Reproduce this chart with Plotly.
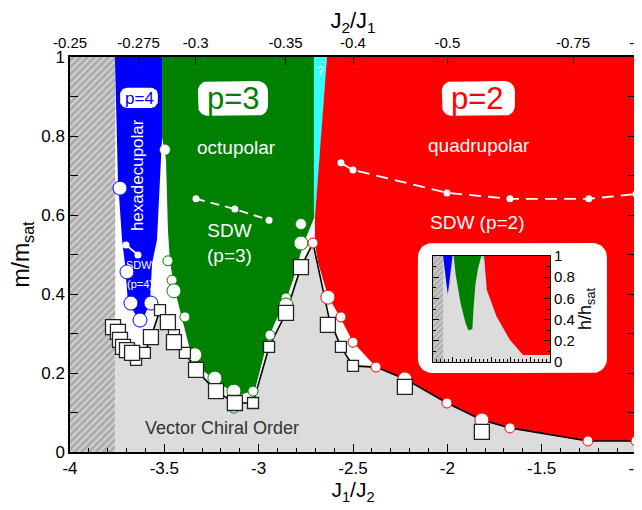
import numpy as np
import plotly.graph_objects as go

# ---------------- data ----------------
# main panel: x = J1/J2, y = m/m_sat
X_RANGE = [-4.0, -1.0]
Y_RANGE = [0.0, 1.0]

bottom_tickvals = [-4, -3.5, -3, -2.5, -2, -1.5, -1]
bottom_ticktext = ["-4", "-3.5", "-3", "-2.5", "-2", "-1.5", "-1"]
top_values = [-0.25, -0.275, -0.3, -0.35, -0.4, -0.5, -0.75, -1.0]   # J2/J1
top_ticktext = ["-0.25", "-0.275", "-0.3", "-0.35", "-0.4", "-0.5", "-0.75", "-1"]
y_tickvals = [0, 0.2, 0.4, 0.6, 0.8, 1.0]
y_ticktext = ["0", "0.2", "0.4", "0.6", "0.8", "1"]

# hatched (unexplored) strip
hatch_x = [-4.0, -3.76, -3.76, -4.0]
hatch_y = [0.0, 0.0, 1.0, 1.0]

# phase regions
blue_x = [-3.762, -3.512, -3.512, -3.539, -3.565, -3.576, -3.618, -3.629, -3.693, -3.709, -3.724, -3.746]
blue_y = [1.0, 1.0, 0.797, 0.537, 0.478, 0.380, 0.329, 0.329, 0.380, 0.478, 0.537, 0.689]

green_x = [-3.512, -2.707, -2.707, -2.765, -2.818, -2.855, -2.914, -2.951, -3.020, -3.099, -3.152,
           -3.221, -3.300, -3.364, -3.417, -3.444, -3.470, -3.481, -3.491, -3.507, -3.512]
green_y = [1.0, 1.0, 0.592, 0.524, 0.435, 0.385, 0.327, 0.284, 0.157, 0.144, 0.157,
           0.177, 0.208, 0.258, 0.359, 0.410, 0.481, 0.562, 0.739, 0.790, 0.797]

cyan_x = [-2.707, -2.638, -2.665, -2.686, -2.702, -2.707]
cyan_y = [1.0, 1.0, 0.815, 0.689, 0.592, 0.592]

red_x = [-2.638, -1.0, -1.0, -1.255, -1.668, -1.817, -2.002, -2.225, -2.378, -2.500, -2.569,
         -2.633, -2.686, -2.702, -2.702, -2.686, -2.665]
red_y = [1.0, 1.0, 0.028, 0.028, 0.061, 0.081, 0.124, 0.185, 0.215, 0.278, 0.342,
         0.395, 0.481, 0.529, 0.592, 0.689, 0.815]

# vector chiral boundary (black line)
chiral_x = [-3.772, -3.735, -3.698, -3.650, -3.603, -3.571, -3.523, -3.449, -3.391, -3.332, -3.226,
            -3.126, -3.030, -2.945, -2.855, -2.776, -2.712, -2.649, -2.627, -2.564, -2.500, -2.378,
            -2.225, -2.002, -1.817, -1.668, -1.255, -1.0]
chiral_y = [0.316, 0.284, 0.258, 0.233, 0.251, 0.291, 0.359, 0.296, 0.251, 0.208, 0.154,
            0.124, 0.124, 0.266, 0.352, 0.468, 0.529, 0.392, 0.339, 0.266, 0.218, 0.215,
            0.185, 0.124, 0.081, 0.061, 0.028, 0.028]

# chiral-order data points (squares)
sq_big_x = [-3.772, -3.746, -3.735, -3.719, -3.698, -3.671, -3.571, -3.481, -3.449, -3.332, -3.226,
            -3.126, -2.855, -2.776, -2.633, -2.225, -1.817]
sq_big_y = [0.316, 0.304, 0.284, 0.266, 0.258, 0.251, 0.291, 0.329, 0.278, 0.208, 0.154,
            0.124, 0.352, 0.468, 0.322, 0.165, 0.051]
sq_small_x = [-3.650, -3.603, -3.523, -3.449, -3.391, -3.030, -2.945, -2.564, -2.500]
sq_small_y = [0.233, 0.251, 0.359, 0.296, 0.251, 0.124, 0.266, 0.266, 0.218]

# multipolar boundary points (circles)
red_big_x = [-2.633, -2.225, -1.817]
red_big_y = [0.392, 0.185, 0.081]
red_small_x = [-2.712, -2.564, -2.500, -2.378, -2.002, -1.668, -1.255, -1.0]
red_small_y = [0.529, 0.342, 0.278, 0.215, 0.124, 0.061, 0.028, 0.028]

green_big_x = [-3.449, -3.338, -3.232, -3.131, -2.855, -2.776]
green_big_y = [0.408, 0.246, 0.187, 0.154, 0.372, 0.529]
green_small_x = [-3.481, -3.459, -3.391, -3.131, -3.030, -2.940, -2.855]
green_small_y = [0.484, 0.435, 0.342, 0.111, 0.154, 0.296, 0.390]

blue_big_x = [-3.735, -3.698, -3.677, -3.571, -3.629]
blue_big_y = [0.668, 0.456, 0.377, 0.377, 0.334]

white_dot_x = [-3.497, -2.776]
white_dot_y = [0.765, 0.577]

# SDW crossover lines
sdw4_x = [-3.703, -3.640]
sdw4_y = [0.524, 0.499]
sdw3_x = [-3.332, -3.126, -2.945]
sdw3_y = [0.641, 0.615, 0.587]
sdw2_x = [-2.564, -2.500, -2.002, -1.668, -1.250, -1.0]
sdw2_y = [0.732, 0.714, 0.656, 0.641, 0.641, 0.653]

# inset: x = J1/J2, y = h/h_sat
in_hatch_x = [-4.0, -3.74, -3.74, -4.0]
in_hatch_y = [0.0, 0.0, 1.0, 1.0]
in_blue_x = [-3.74, -3.50, -3.58, -3.62, -3.66]
in_blue_y = [1.0, 1.0, 0.75, 0.64, 0.75]
in_green_x = [-3.47, -3.42, -3.29, -3.16, -3.09, -2.99, -2.96, -2.91, -2.84, -2.76]
in_green_y = [1.0, 0.83, 0.55, 0.36, 0.30, 0.31, 0.51, 0.74, 0.89, 1.0]
in_cyan_x = [-2.76, -2.68, -2.72]
in_cyan_y = [1.0, 1.0, 0.96]
in_red_x = [-2.69, -1.0, -1.0, -1.69, -2.03, -2.37, -2.62]
in_red_y = [1.0, 1.0, 0.066, 0.066, 0.21, 0.43, 0.68]
in_tickvals = [0, 0.2, 0.4, 0.6, 0.8, 1.0]
in_ticktext = ["0", "0.2", "0.4", "0.6", "0.8", "1"]

# ---------------- colours / style ----------------
C_BLUE = "#0000ff"
C_GREEN = "#008000"
C_RED = "#ff0000"
C_CYAN = "#33ffff"
C_LGRAY = "#dcdcdc"
FONT = "Liberation Sans, Arial, Helvetica, sans-serif"

# the page body adds an 8 px offset, so the figure is 8 px smaller on each of those sides
W, H = 634, 502
ML, MR, MT, MB = 62, 6, 49, 58
PX_X = (W - ML - MR) / (X_RANGE[1] - X_RANGE[0])
PX_Y = (H - MT - MB) / (Y_RANGE[1] - Y_RANGE[0])


def rounded_rect(x0, x1, y0, y1, r_px, n=10):
    rx, ry = r_px / PX_X, r_px / PX_Y
    xs, ys = [], []
    for cx, cy, a0, a1 in [(x1 - rx, y1 - ry, 0, 90), (x0 + rx, y1 - ry, 90, 180),
                           (x0 + rx, y0 + ry, 180, 270), (x1 - rx, y0 + ry, 270, 360)]:
        t = np.radians(np.linspace(a0, a1, n))
        xs += list(cx + rx * np.cos(t))
        ys += list(cy + ry * np.sin(t))
    return xs + [xs[0]], ys + [ys[0]]


def region(x, y, color, xa="x", ya="y"):
    return go.Scatter(x=list(x) + [x[0]], y=list(y) + [y[0]], xaxis=xa, yaxis=ya, mode="lines",
                      fill="toself", fillcolor=color, line=dict(width=0), hoverinfo="skip")


def hatch(x, y, xa="x", ya="y", size=6):
    return go.Scatter(x=list(x) + [x[0]], y=list(y) + [y[0]], xaxis=xa, yaxis=ya, mode="lines",
                      fill="toself", fillcolor="#acacac",
                      fillpattern=dict(shape="/", bgcolor="#acacac", fgcolor="#ffffff",
                                       size=size, solidity=0.35),
                      line=dict(width=0), hoverinfo="skip")


def markers(x, y, size, edge, symbol="circle", fill="white", width=1.5):
    return go.Scatter(x=x, y=y, mode="markers", hoverinfo="skip",
                      marker=dict(symbol=symbol, size=size, color=fill, line=dict(color=edge, width=width)))


fig = go.Figure()

# main panel regions
fig.add_trace(hatch(hatch_x, hatch_y, size=5))
gx = [hatch_x[1]] + chiral_x[1:] + [X_RANGE[1], hatch_x[1]]
gy = [chiral_y[0]] + chiral_y[1:] + [0.0, 0.0]
fig.add_trace(region(gx, gy, C_LGRAY))
fig.add_trace(region(blue_x, blue_y, C_BLUE))
fig.add_trace(region(green_x, green_y, C_GREEN))
fig.add_trace(region(cyan_x, cyan_y, C_CYAN))
fig.add_trace(region(red_x, red_y, C_RED))

# chiral boundary
fig.add_trace(go.Scatter(x=chiral_x, y=chiral_y, mode="lines", line=dict(color="black", width=1.6),
                         hoverinfo="skip"))

# SDW crossover lines
fig.add_trace(go.Scatter(x=sdw4_x, y=sdw4_y, mode="lines+markers", line=dict(color="white", width=1.8),
                         marker=dict(size=7, color="white"), hoverinfo="skip"))
fig.add_trace(go.Scatter(x=sdw3_x, y=sdw3_y, mode="lines+markers",
                         line=dict(color="white", width=1.8, dash="9px,6px"),
                         marker=dict(size=7, color="white"), hoverinfo="skip"))
fig.add_trace(go.Scatter(x=sdw2_x, y=sdw2_y, mode="lines+markers",
                         line=dict(color="white", width=1.8, dash="12px,7px"),
                         marker=dict(size=7, color="white"), hoverinfo="skip"))

# circles
fig.add_trace(markers(green_small_x, green_small_y, 10, C_GREEN, width=1))
fig.add_trace(markers(green_big_x, green_big_y, 14, C_GREEN, width=1))
fig.add_trace(markers(red_small_x, red_small_y, 10, C_RED, width=1))
fig.add_trace(markers(red_big_x, red_big_y, 14, C_RED, width=1))
fig.add_trace(markers(blue_big_x, blue_big_y, 14, C_BLUE, width=1))
fig.add_trace(markers(white_dot_x, white_dot_y, 10, "#dddddd", width=0.5))

# squares
fig.add_trace(markers(sq_small_x, sq_small_y, 11, "#222222", symbol="square", width=1.3))
fig.add_trace(markers(sq_big_x, sq_big_y, 15, "#222222", symbol="square", width=1.3))

# rounded label boxes and the inset frame
for (x0, x1, y0, y1, r) in [(-3.735, -3.534, 0.871, 0.922, 7),
                            (-3.322, -2.951, 0.851, 0.939, 10),
                            (-2.029, -1.642, 0.851, 0.939, 10),
                            (-2.156, -1.154, 0.200, 0.529, 14)]:
    bx, by = rounded_rect(x0, x1, y0, y1, r)
    fig.add_trace(go.Scatter(x=bx, y=by, mode="lines", fill="toself", fillcolor="white",
                             line=dict(width=0), hoverinfo="skip"))

# invisible trace on the top axis
fig.add_trace(go.Scatter(x=X_RANGE, y=[0, 0], xaxis="x2", yaxis="y", mode="markers",
                         marker=dict(opacity=0), hoverinfo="skip"))

# inset
fig.add_trace(region([-4.0, -1.0, -1.0, -4.0], [0, 0, 1, 1], C_LGRAY, "x3", "y3"))
fig.add_trace(hatch(in_hatch_x, in_hatch_y, "x3", "y3", size=4))
fig.add_trace(region(in_blue_x, in_blue_y, C_BLUE, "x3", "y3"))
fig.add_trace(region(in_green_x, in_green_y, C_GREEN, "x3", "y3"))
fig.add_trace(region(in_cyan_x, in_cyan_y, C_CYAN, "x3", "y3"))
fig.add_trace(region(in_red_x, in_red_y, C_RED, "x3", "y3"))

# ---------------- annotations ----------------
def txt(x, y, s, size, color="white", angle=0):
    return dict(x=x, y=y, xref="x", yref="y", text=s, showarrow=False, textangle=angle,
                font=dict(size=size, color=color, family=FONT))

annotations = [
    txt(-3.634, 0.896, "p=4", 17, C_BLUE),
    txt(-3.136, 0.896, "p=3", 31, C_GREEN),
    txt(-1.838, 0.896, "p=2", 31, C_RED),
    txt(-3.115, 0.772, "octupolar", 19),
    txt(-1.833, 0.775, "quadrupolar", 19),
    txt(-1.838, 0.580, "SDW (p=2)", 19),
    txt(-3.152, 0.529, "SDW<br>(p=3)", 19),
    txt(-3.645, 0.701, "hexadecupolar", 17, angle=-90),
    txt(-3.634, 0.473, "SDW", 11),
    txt(-3.629, 0.425, "(p=4)", 11),
    txt(-2.670, 0.967, "?", 13),
    txt(-3.194, 0.061, "Vector Chiral Order", 18, "#333333"),
]

axis_common = dict(showgrid=False, zeroline=False, showline=True, linecolor="black", linewidth=1.5,
                   automargin=False)

fig.update_layout(
    width=W, height=H,
    margin=dict(l=ML, r=MR, t=MT, b=MB, autoexpand=False),
    plot_bgcolor="white", paper_bgcolor="white",
    showlegend=False,
    font=dict(family=FONT, color="black"),
    annotations=annotations,
    xaxis=dict(range=X_RANGE, domain=[0, 1], tickvals=bottom_tickvals, ticktext=bottom_ticktext,
               ticks="inside", ticklen=8, tickcolor="black", mirror=True, ticklabeloverflow="allow",
               minor=dict(dtick=0.1, tick0=-4, ticks="inside", ticklen=4, tickcolor="black"),
               tickfont=dict(size=17), title=dict(text="J<sub>1</sub>/J<sub>2</sub>", font=dict(size=21),
                                                  standoff=4),
               **axis_common),
    xaxis2=dict(range=X_RANGE, overlaying="x", side="top", anchor="y", ticklabeloverflow="allow",
                tickvals=[1.0 / v for v in top_values], ticktext=top_ticktext,
                ticks="inside", ticklen=8, tickcolor="black", tickfont=dict(size=15),
                ticklabelstandoff=5,
                title=dict(text="J<sub>2</sub>/J<sub>1</sub>", font=dict(size=22), standoff=8),
                showgrid=False, zeroline=False, showline=False, automargin=False),
    yaxis=dict(range=Y_RANGE, domain=[0, 1], tickvals=y_tickvals, ticktext=y_ticktext,
               ticks="inside", ticklen=8, tickcolor="black", mirror="allticks",
               minor=dict(dtick=0.1, tick0=0, ticks="inside", ticklen=4, tickcolor="black"),
               tickfont=dict(size=17), title=dict(text="m/m<sub>sat</sub>", font=dict(size=23), standoff=8),
               **axis_common),
    xaxis3=dict(range=X_RANGE, domain=[0.6413, 0.848], anchor="y3", showticklabels=False,
                tickvals=bottom_tickvals, ticks="inside", ticklen=5, tickcolor="black", mirror=True,
                minor=dict(dtick=0.1, tick0=-4, ticks="inside", ticklen=3, tickcolor="black"),
                showgrid=False, zeroline=False, showline=True, linecolor="black", linewidth=1.2,
                automargin=False),
    yaxis3=dict(range=[0, 1], domain=[0.2278, 0.4962], anchor="x3", side="right",
                tickvals=in_tickvals, ticktext=in_ticktext, ticks="inside", ticklen=6, tickcolor="black",
                mirror="allticks", tickfont=dict(size=15),
                minor=dict(dtick=0.1, tick0=0, ticks="inside", ticklen=3, tickcolor="black"),
                title=dict(text="h/h<sub>sat</sub>", font=dict(size=18), standoff=2),
                showgrid=False, zeroline=False, showline=True, linecolor="black", linewidth=1.2,
                automargin=False),
)

fig.write_html("out.html")
